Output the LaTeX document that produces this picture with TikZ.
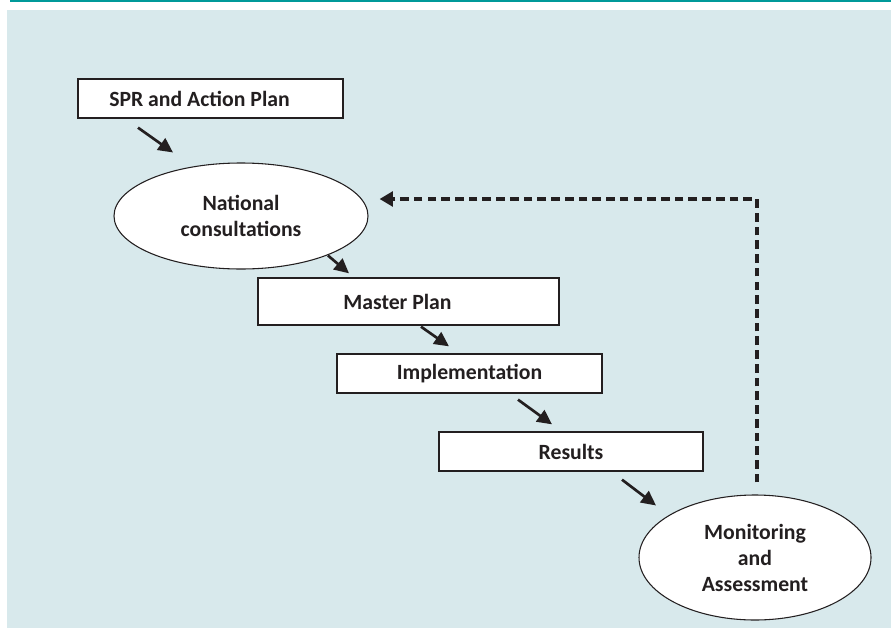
\documentclass[tikz,border=0pt]{standalone}
\usepackage{fontspec}
\setmainfont{Carlito}
\usepackage{tikz}
\usetikzlibrary{shapes.geometric, arrows.meta}
\definecolor{bgblue}{RGB}{216,233,236}
\definecolor{tealrule}{RGB}{0,153,153}
\definecolor{ink}{RGB}{35,31,32}
\tikzstyle{box} = [rectangle, draw=ink, line width=1pt, fill=white, inner sep=0pt, text=ink, font=\bfseries\fontsize{16.3}{19.5}\selectfont, align=center]
\tikzstyle{oval} = [ellipse, draw=ink, line width=0.8pt, fill=white, inner sep=0pt, text=ink, font=\bfseries\fontsize{16.3}{19.5}\selectfont, align=center]
\tikzstyle{arrow} = [draw=ink, line width=2pt, -{Triangle[length=11pt,width=10.5pt]}]
\tikzstyle{dasharrow} = [draw=ink, line width=2.6pt, dash pattern=on 6.5pt off 3.8pt, -{Triangle[length=10pt,width=11pt]}]

\begin{document}
\begin{tikzpicture}[x=0.75pt, y=-0.75pt]

    \useasboundingbox (0, 0) rectangle (891, 628);
    \fill [bgblue] (7, 10) rectangle (891, 628);
    \draw [tealrule, line width=1.6pt] (10, 1) -- (891, 1);

    \node (spr) [box, minimum width=198.75pt, minimum height=29.25pt] at (210.5, 98.5) {\hspace*{-16.5pt}SPR and Action Plan};
    \node (natcons) [oval, minimum width=190.5pt, minimum height=79.5pt] at (241, 216) {National\\consultations};
    \node (master) [box, minimum width=225.75pt, minimum height=35.25pt] at (408.5, 301.5) {\hspace*{-16.5pt}Master Plan};
    \node (impl) [box, minimum width=198.75pt, minimum height=29.25pt] at (469.5, 373.5) {Implementation};
    \node (results) [box, minimum width=198pt, minimum height=29.25pt] at (571, 451.5) {Results};
    \node (monitor) [oval, minimum width=174pt, minimum height=93.75pt] at (755, 557.5) {Monitoring\\and\\Assessment};

    \draw [arrow] ([shift={(-72.5, 9)}]spr.south) -- ([shift={(-68, -10)}]natcons.north);
    \draw [arrow] ([shift={(87, -14)}]natcons.south) -- ([shift={(-59.5, -4)}]master.north);
    \draw [arrow] ([shift={(12.5, 1)}]master.south) -- ([shift={(-20.5, -7)}]impl.north);
    \draw [arrow] ([shift={(48.5, 6)}]impl.south) -- ([shift={(-19, -7)}]results.north);
    \draw [arrow] ([shift={(51, 8)}]results.south) -- ([shift={(-99, 11)}]monitor.north);

    \draw [dasharrow] ([shift={(2, -12)}]monitor.north) |- ([shift={(11, -17)}]natcons.east);

\end{tikzpicture}
\end{document}
